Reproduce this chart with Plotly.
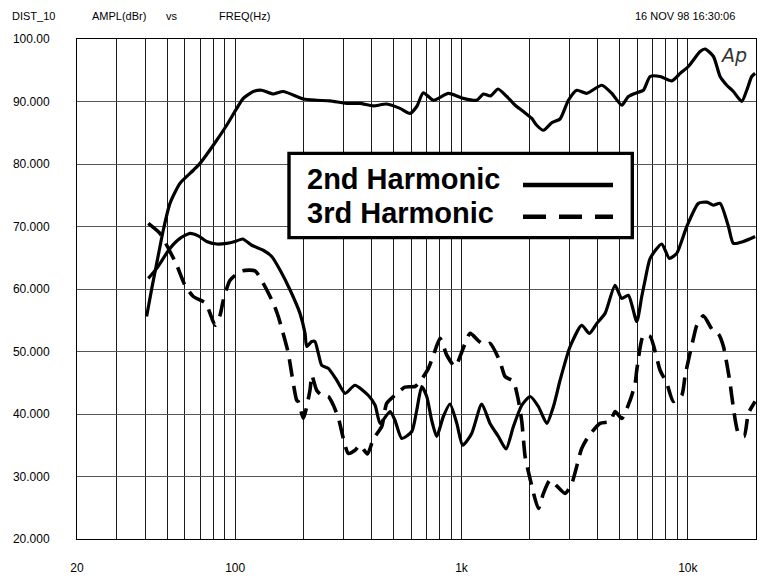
import math
import plotly.graph_objects as go

# ---------------- data ----------------
resp_freq = [40.6, 42.8, 45.0, 48.1, 51.5, 57.0, 65.3, 69.9, 80.0, 91.7, 101.6, 108.6, 120.2, 131, 147, 163,
             200, 229, 262, 311, 356, 407, 467, 535, 592, 634, 678, 751, 875, 1019, 1167, 1249, 1345, 1450,
             1585, 1725, 1876, 2043, 2148, 2300, 2504, 2724, 2966, 3229, 3573, 4164, 4612, 5105, 5460, 5945,
             6364, 6813, 7541, 8490, 9245, 10050, 11325, 11914, 12974, 13880, 14860, 15890, 17300, 18200,
             19150, 19820]
resp_db = [55.6, 60.1, 64.1, 69.4, 73.7, 76.9, 79.0, 80.1, 83.0, 86.2, 88.9, 90.5, 91.6, 91.8, 91.2, 91.6,
           90.4, 90.2, 90.1, 89.7, 89.7, 89.3, 89.6, 88.9, 88.1, 89.2, 91.4, 90.2, 91.3, 90.5, 90.2, 91.2, 90.9, 92.0,
           90.8, 89.4, 88.4, 87.3, 86.2, 85.4, 86.6, 87.2, 90.2, 91.8, 91.3, 92.6, 91.3, 89.4, 90.8, 91.4,
           91.8, 94.0, 94.0, 93.3, 94.5, 95.6, 98.0, 98.4, 97.2, 94.0, 92.6, 91.6, 90.0, 91.8,
           94.0, 94.5]

h2_freq = [41.3, 45.0, 51.5, 57.0, 63.1, 68.7, 74.8, 82.8, 91.7, 99.8, 108, 118.3, 133, 145, 158, 175, 193.3,
           203.5, 207, 218, 225, 233, 241, 258, 281, 306, 338, 387, 415, 437, 483, 508, 544, 603, 634, 667,
           702, 738, 777, 831, 889, 953, 1012, 1109, 1228, 1336, 1455, 1573, 1695, 1846, 2010, 2185, 2380,
           2547, 2725, 3018, 3397, 3672, 3960, 4307, 4766, 5104, 5460, 5945, 6255, 6470, 6813, 7667, 8284,
           8930, 9890, 11130, 12130, 12970, 13880, 15110, 15890, 17590, 19820]
h2_db = [61.7, 63.3, 66.5, 68.1, 68.9, 68.5, 67.6, 67.2, 67.3, 67.6, 68.0, 67.0, 66.2, 65.2, 63.0, 59.8, 56.1,
         52.9, 50.8, 51.6, 51.6, 49.7, 47.8, 47.3, 45.4, 43.3, 44.6, 43.0, 41.4, 38.5, 40.4, 39.0, 36.1, 37.2, 40.6, 44.4,
         42.8, 39.0, 36.4, 39.6, 41.6, 38.5, 35.0, 36.9, 41.6, 38.5, 36.4, 34.4, 38.0, 41.4, 42.8, 41.2, 38.5,
         41.2, 45.4, 50.8, 54.2, 52.9, 54.5, 56.1, 60.6, 58.5, 59.0, 54.8, 58.8, 61.4, 64.9, 67.2, 64.9,
         65.7, 70.0, 73.7, 73.9, 73.4, 73.7, 70.0, 67.3, 67.6, 68.4]

h3_freq = [41.3, 46.5, 51.5, 55.2, 60.0, 65.3, 74.1, 81.5, 85.7, 88.6, 94.9, 106.9, 122.4, 133, 147.5, 155,
           171.8, 174.7, 187, 190, 200, 214, 218, 229, 241, 258, 271.5, 286, 316, 338.5, 356, 384, 407.6, 444,
           467, 508, 562, 623, 656, 714, 751, 804, 861, 937, 1091, 1187, 1271, 1337, 1479, 1557, 1695, 1783,
           1846, 1909, 1973, 2186, 2300, 2462, 2868, 3070, 3397, 3635, 4095, 4535, 4771, 5105, 5558, 5848,
           5945, 6364, 6813, 7541, 8075, 8630, 9400, 9730, 10580, 10950, 11710, 12970, 13650, 14360, 15370,
           15640, 16720, 17710, 18510, 19820]
h3_db = [70.5, 68.9, 66.0, 63.8, 60.6, 58.8, 57.7, 54.2, 55.8, 58.2, 61.4, 62.9, 62.9, 60.9, 57.7, 55.6,
         49.7, 48.1, 42.2, 42.0, 39.3, 43.8, 46.2, 43.8, 43.0, 42.8, 41.4, 39.3, 33.7, 34.2, 35.0, 33.6, 36.0, 38.0,
         41.7, 43.0, 44.3, 44.4, 45.2, 47.3, 49.4, 52.1, 49.4, 47.6, 52.9, 51.7, 51.0, 51.3, 48.4, 46.0, 45.2, 42.2,
         38.8, 33.2, 30.8, 24.9, 27.3, 29.4, 27.3, 28.9, 34.5, 36.4, 38.5, 38.8, 40.4, 39.3, 42.2, 44.9,
         47.0, 52.6, 52.4, 47.0, 44.9, 42.0, 43.0, 46.2, 52.1, 54.2, 55.7, 53.2, 52.8, 50.8, 44.9,
         42.8, 36.9, 36.4, 40.1, 42.0]

x_tickvals = [20, 100, 1000, 10000, 20000]
x_ticktext = ["20", "100", "1k", "10k", "20k"]
x_minor = [30, 40, 50, 60, 70, 80, 90, 200, 300, 400, 500, 600, 700, 800, 900,
           2000, 3000, 4000, 5000, 6000, 7000, 8000, 9000]
y_tickvals = [20, 30, 40, 50, 60, 70, 80, 90, 100]
y_ticktext = ["20.000", "30.000", "40.000", "50.000", "60.000", "70.000", "80.000", "90.000", "100.00"]

header_left = [("DIST_10", 10), ("AMPL(dBr)", 90), ("vs", 164), ("FREQ(Hz)", 217)]
header_right = "16 NOV 98 16:30:06"
legend_labels = ["2nd Harmonic", "3rd Harmonic"]

# ---------------- layout geometry ----------------
W, H = 762, 576
L, R, T, B = 77, 6, 39, 37
PW, PH = W - L - R, H - T - B


def px(x):
    return (x - L) / PW


def py(y):
    return (H - B - y) / PH


FONT = "Liberation Sans, Arial, Helvetica, sans-serif"

fig = go.Figure()
line_common = dict(color="black", shape="spline", smoothing=0.6)
fig.add_trace(go.Scatter(x=resp_freq, y=resp_db, mode="lines", name="Response",
                         line=dict(width=3.2, **line_common), hoverinfo="skip"))
fig.add_trace(go.Scatter(x=h2_freq, y=h2_db, mode="lines", name=legend_labels[0],
                         line=dict(width=3.2, **line_common), hoverinfo="skip"))
fig.add_trace(go.Scatter(x=h3_freq, y=h3_db, mode="lines", name=legend_labels[1],
                         line=dict(width=3.6, dash="18px,9px", **line_common), hoverinfo="skip"))

fig.update_layout(
    width=W, height=H,
    margin=dict(l=L, r=R, t=T, b=B, pad=0, autoexpand=False),
    paper_bgcolor="white", plot_bgcolor="white",
    showlegend=False,
    font=dict(family=FONT, size=12, color="black"),
)
fig.update_xaxes(
    type="log", range=[math.log10(20), math.log10(20000)],
    tickvals=x_tickvals, ticktext=x_ticktext, ticks="",
    showgrid=True, gridcolor="#1a1a1a", gridwidth=1,
    minor=dict(tickvals=x_minor, showgrid=True, gridcolor="#1a1a1a", gridwidth=1, ticks=""),
    showline=True, linecolor="black", linewidth=1, mirror=True,
    zeroline=False, ticklabelstandoff=18, automargin=False,
    tickfont=dict(family=FONT, size=12, color="black"),
)
fig.update_yaxes(
    range=[20, 100], tickvals=y_tickvals, ticktext=y_ticktext, ticks="",
    showgrid=True, gridcolor="#555555", gridwidth=1,
    showline=True, linecolor="black", linewidth=1, mirror=True,
    zeroline=False, ticklabelstandoff=24, automargin=False,
    tickfont=dict(family=FONT, size=12, color="black"),
)

ann = []
for txt, xpos in header_left:
    ann.append(dict(text=txt, x=px(xpos), y=py(16), xref="paper", yref="paper",
                    xanchor="left", yanchor="middle", showarrow=False,
                    font=dict(family=FONT, size=11, color="black")))
ann.append(dict(text=header_right, x=px(737), y=py(16), xref="paper", yref="paper",
                xanchor="right", yanchor="middle", showarrow=False,
                font=dict(family=FONT, size=11, color="black")))
ann.append(dict(text="<i>Ap</i>", x=px(733), y=py(55), xref="paper", yref="paper",
                xanchor="center", yanchor="middle", showarrow=False,
                font=dict(family="DejaVu Sans, sans-serif", size=19, color="#333333")))
for txt, yc in zip(legend_labels, [178.8, 212.5]):
    ann.append(dict(text="<b>" + txt + "</b>", x=px(305), y=py(yc), xref="paper", yref="paper",
                    xanchor="left", yanchor="middle", showarrow=False,
                    font=dict(family=FONT, size=29, color="black")))

shapes = [
    dict(type="rect", xref="paper", yref="paper", x0=px(289), x1=px(632.3), y0=py(153.4), y1=py(237.6),
         line=dict(color="black", width=3.4), fillcolor="white", layer="above"),
    dict(type="line", xref="paper", yref="paper", x0=px(523), x1=px(613), y0=py(185), y1=py(185),
         line=dict(color="black", width=4.5)),
    dict(type="line", xref="paper", yref="paper", x0=px(523), x1=px(613), y0=py(216.7), y1=py(216.7),
         line=dict(color="black", width=4.5, dash="23px,13px")),
]
fig.update_layout(annotations=ann, shapes=shapes)

fig.write_html(
    "out.html",
    config={"displayModeBar": False, "staticPlot": True},
    post_script="document.body.style.margin='0px';document.body.style.overflow='hidden';",
)
